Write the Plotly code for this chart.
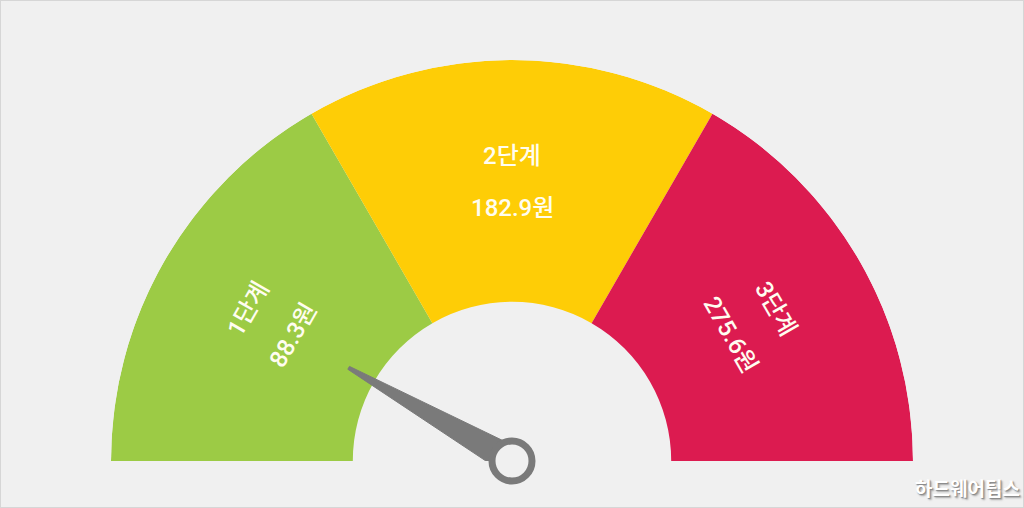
import numpy as np
import plotly.graph_objects as go

# Stages of the gauge (left -> right)
stage_names = ["1단계", "2단계", "3단계"]
stage_prices = [88.3, 182.9, 275.6]
stage_colors = ["#9ccb45", "#fecd06", "#dc1b50"]

# needle position as fraction of the dial, measured from the left end
needle_value = 0.165

BG = "#f0f0f0"
HOLE = 0.397
FONT = "Roboto, Noto Sans CJK KR"

n = len(stage_names)
span = 180 / n
# stage 1 on the left (theta=180) to stage n on the right (theta=0)
theta_mid = [180 - span * (i + 0.5) for i in range(n)]

fig = go.Figure()

# coloured bands
fig.add_trace(go.Barpolar(
    r=[1 - HOLE] * n,
    base=[HOLE] * n,
    theta=theta_mid,
    width=[span] * n,
    marker=dict(color=stage_colors, line=dict(width=0)),
    hoverinfo="skip",
    showlegend=False,
))

# needle
needle_theta = 180 - 180 * needle_value
needle_len = 0.469
base_r = 0.036
tip_half = 0.5
fig.add_trace(go.Scatterpolar(
    r=[base_r, needle_len, needle_len, base_r, base_r],
    theta=[needle_theta + 90, needle_theta + tip_half, needle_theta - tip_half,
           needle_theta - 90, needle_theta + 90],
    mode="lines",
    fill="toself",
    fillcolor="#7a7a7a",
    line=dict(color="#7a7a7a", width=1),
    hoverinfo="skip",
    showlegend=False,
))

# pivot ring
fig.add_trace(go.Scatterpolar(
    r=[0],
    theta=[0],
    mode="markers",
    marker=dict(size=40, color=BG, line=dict(color="#7a7a7a", width=7)),
    hoverinfo="skip",
    showlegend=False,
))

dom_x = [111 / 1024, 913 / 1024]
dom_y = [47 / 508, 448 / 508]

# labels, placed on an invisible cartesian overlay matching the dial
annotations = []
for name, price, th in zip(stage_names, stage_prices, theta_mid):
    ang = np.radians(th)
    for txt, rr in ((name, 0.76), (f"{price}원", 0.63)):
        annotations.append(dict(
            x=rr * np.cos(ang), y=rr * np.sin(ang), xref="x", yref="y",
            text=txt, showarrow=False, textangle=90 - th,
            font=dict(family=FONT, size=24, color="#fffdf0", weight=500),
        ))

annotations.append(dict(
    x=1, y=0, xref="paper", yref="paper", xanchor="right", yanchor="bottom",
    xshift=-2, yshift=5, text="하드웨어팁스", showarrow=False,
    font=dict(family="Noto Sans CJK KR", size=19, color="#ffffff", weight=700,
              shadow="1px 1px 1px #888, 2px 2px 2px #aaa"),
))

fig.update_layout(
    width=1024, height=508,
    margin=dict(l=0, r=0, t=0, b=0),
    paper_bgcolor=BG,
    plot_bgcolor="rgba(0,0,0,0)",
    polar=dict(
        domain=dict(x=dom_x, y=dom_y),
        sector=[0, 180],
        bgcolor="rgba(0,0,0,0)",
        radialaxis=dict(visible=False, range=[0, 1]),
        angularaxis=dict(visible=False),
    ),
    xaxis=dict(domain=dom_x, range=[-1, 1], visible=False, fixedrange=True),
    yaxis=dict(domain=dom_y, range=[0, 1], visible=False, fixedrange=True),
    annotations=annotations,
    shapes=[dict(type="rect", xref="paper", yref="paper", x0=0, y0=0, x1=1, y1=1,
                 line=dict(color="#d6d6d6", width=2))],
    showlegend=False,
)

fig.write_html("out.html", config={"displayModeBar": False},
               post_script="document.body.style.margin='0';")
